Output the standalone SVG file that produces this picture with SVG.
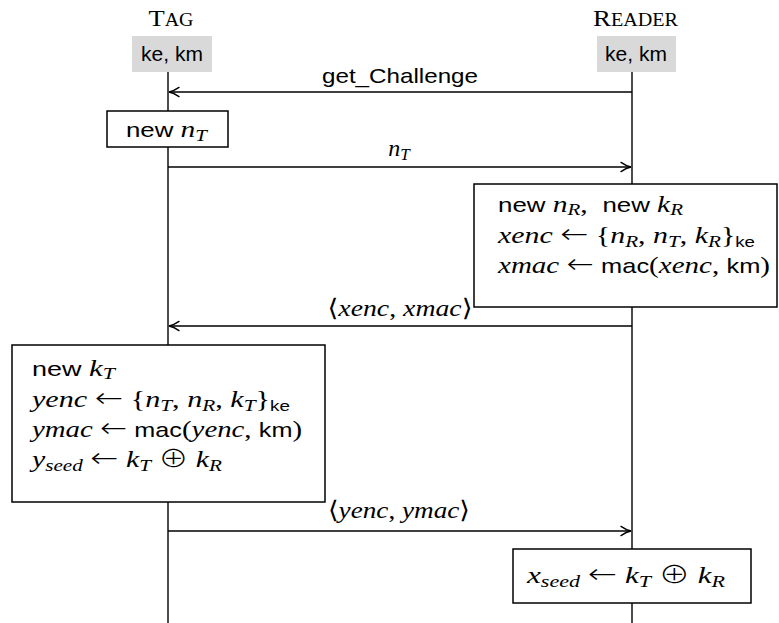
<svg xmlns="http://www.w3.org/2000/svg" width="779" height="623" viewBox="0 0 779 623">
<style>
text { fill:#000; }
.hd { font-family:"Liberation Serif","DejaVu Serif",serif; font-size:24px; }
.sc { font-size:18px; }
.sf { font-family:"Liberation Sans","DejaVu Sans",sans-serif; font-size:21px; font-style:normal; }
.mi { font-family:"Liberation Serif","DejaVu Serif",serif; font-style:italic; font-size:24px; }
.rm { font-family:"Liberation Serif","DejaVu Serif","DejaVu Sans",serif; font-style:normal; font-size:24px; }
.ar { font-family:"DejaVu Sans",sans-serif; font-style:normal; font-weight:200; font-size:27px; }
.op { font-family:"Noto Sans CJK SC","DejaVu Sans",sans-serif; font-style:normal; font-weight:300; font-size:24px; }
.sb { font-size:17px; }
.sbs { font-family:"Liberation Sans","DejaVu Sans",sans-serif; font-size:15px; font-style:normal; }
.life { stroke:#000; stroke-width:1.4; }
.box { fill:#fff; stroke:#000; stroke-width:1.5; }
.key { fill:#d9d9d9; }
.msg { stroke:#000; stroke-width:1.4; fill:none; marker-end:url(#arr); }
</style>
<defs>
  <marker id="arr" markerUnits="userSpaceOnUse" markerWidth="14" markerHeight="12" viewBox="-11 -6 13 12" refX="0" refY="0" orient="auto">
    <path d="M-10,-4.6 C-6,-1.8 -2.8,-0.5 0,0 C-2.8,0.5 -6,1.8 -10,4.6" fill="none" stroke="#000" stroke-width="1.4" stroke-linecap="round"/>
  </marker>
</defs>

<!-- lifelines -->
<g id="lifelines">
  <line class="life" x1="168" y1="72" x2="168" y2="623"/>
  <line class="life" x1="632" y1="72" x2="632" y2="623"/>
</g>

<!-- participants -->
<g id="tag">
  <text class="hd" x="171" y="26" text-anchor="middle" textLength="45" lengthAdjust="spacingAndGlyphs">T<tspan class="sc">AG</tspan></text>
  <rect class="key" x="132" y="36" width="80" height="36"/>
  <text class="sf" x="172" y="61" text-anchor="middle">ke, km</text>
</g>
<g id="reader">
  <text class="hd" x="635.5" y="26" text-anchor="middle" textLength="85" lengthAdjust="spacingAndGlyphs">R<tspan class="sc">EADER</tspan></text>
  <rect class="key" x="597" y="36" width="79" height="36"/>
  <text class="sf" x="636" y="61" text-anchor="middle">ke, km</text>
</g>

<!-- messages -->
<g id="connectors">
  <line class="msg" x1="632" y1="92" x2="169" y2="92"/>
  <line class="msg" x1="168" y1="167" x2="631" y2="167"/>
  <line class="msg" x1="632" y1="326" x2="169" y2="326"/>
  <line class="msg" x1="168" y1="531" x2="631" y2="531"/>
  <text class="sf" x="400" y="83" text-anchor="middle" font-size="22" textLength="156" lengthAdjust="spacingAndGlyphs">get_Challenge</text>
  <text x="399" y="156" text-anchor="middle" xml:space="preserve"><tspan class="mi">n</tspan><tspan class="mi sb" dy="4">T</tspan></text>
  <text x="400" y="316" text-anchor="middle" xml:space="preserve" textLength="145" lengthAdjust="spacingAndGlyphs"><tspan class="rm">⟨</tspan><tspan class="mi">xenc</tspan><tspan class="rm">, </tspan><tspan class="mi">xmac</tspan><tspan class="rm">⟩</tspan></text>
  <text x="399" y="518" text-anchor="middle" xml:space="preserve" textLength="142" lengthAdjust="spacingAndGlyphs"><tspan class="rm">⟨</tspan><tspan class="mi">yenc</tspan><tspan class="rm">, </tspan><tspan class="mi">ymac</tspan><tspan class="rm">⟩</tspan></text>
</g>

<!-- tag: fresh nonce -->
<g id="tag-nonce">
  <rect class="box" x="107" y="111" width="121" height="36"/>
  <text x="126" y="137" xml:space="preserve" textLength="81" lengthAdjust="spacingAndGlyphs"><tspan class="sf">new </tspan><tspan class="mi">n</tspan><tspan class="mi sb" dy="4">T</tspan></text>
</g>

<!-- reader: nonce, key and encryption -->
<g id="reader-compute">
  <rect class="box" x="474" y="184" width="303" height="123"/>
  <text x="498" y="212" xml:space="preserve" textLength="185" lengthAdjust="spacingAndGlyphs"><tspan class="sf">new </tspan><tspan class="mi">n</tspan><tspan class="mi sb" dy="3">R</tspan><tspan class="rm" dy="-3">,  </tspan><tspan class="sf">new </tspan><tspan class="mi">k</tspan><tspan class="mi sb" dy="3">R</tspan></text>
  <text x="498" y="243" xml:space="preserve" textLength="257" lengthAdjust="spacingAndGlyphs"><tspan class="mi">xenc</tspan><tspan class="rm"> </tspan><tspan class="ar">←</tspan><tspan class="rm"> {</tspan><tspan class="mi">n</tspan><tspan class="mi sb" dy="4">R</tspan><tspan class="rm" dy="-4">, </tspan><tspan class="mi">n</tspan><tspan class="mi sb" dy="4">T</tspan><tspan class="rm" dy="-4">, </tspan><tspan class="mi">k</tspan><tspan class="mi sb" dy="4">R</tspan><tspan class="rm" dy="-4">}</tspan><tspan class="sbs" dy="4">ke</tspan></text>
  <text x="498" y="273" xml:space="preserve" textLength="272" lengthAdjust="spacingAndGlyphs"><tspan class="mi">xmac</tspan><tspan class="rm"> </tspan><tspan class="ar">←</tspan><tspan class="rm"> </tspan><tspan class="sf">mac</tspan><tspan class="rm">(</tspan><tspan class="mi">xenc</tspan><tspan class="rm">, </tspan><tspan class="sf">km</tspan><tspan class="rm">)</tspan></text>
</g>

<!-- tag: key, encryption and seed -->
<g id="tag-compute">
  <rect class="box" x="12" y="345" width="313" height="157"/>
  <text x="32" y="376" xml:space="preserve" textLength="83" lengthAdjust="spacingAndGlyphs"><tspan class="sf">new </tspan><tspan class="mi">k</tspan><tspan class="mi sb" dy="3">T</tspan></text>
  <text x="32" y="407" xml:space="preserve" textLength="258" lengthAdjust="spacingAndGlyphs"><tspan class="mi">yenc</tspan><tspan class="rm"> </tspan><tspan class="ar">←</tspan><tspan class="rm"> {</tspan><tspan class="mi">n</tspan><tspan class="mi sb" dy="4">T</tspan><tspan class="rm" dy="-4">, </tspan><tspan class="mi">n</tspan><tspan class="mi sb" dy="4">R</tspan><tspan class="rm" dy="-4">, </tspan><tspan class="mi">k</tspan><tspan class="mi sb" dy="4">T</tspan><tspan class="rm" dy="-4">}</tspan><tspan class="sbs" dy="4">ke</tspan></text>
  <text x="32" y="437" xml:space="preserve" textLength="270" lengthAdjust="spacingAndGlyphs"><tspan class="mi">ymac</tspan><tspan class="rm"> </tspan><tspan class="ar">←</tspan><tspan class="rm"> </tspan><tspan class="sf">mac</tspan><tspan class="rm">(</tspan><tspan class="mi">yenc</tspan><tspan class="rm">, </tspan><tspan class="sf">km</tspan><tspan class="rm">)</tspan></text>
  <text x="32" y="467" xml:space="preserve" textLength="190" lengthAdjust="spacingAndGlyphs"><tspan class="mi">y</tspan><tspan class="mi sb" dy="4">seed</tspan><tspan class="rm" dy="-4"> </tspan><tspan class="ar">←</tspan><tspan class="rm"> </tspan><tspan class="mi">k</tspan><tspan class="mi sb" dy="4">T</tspan><tspan class="rm" dy="-4"> </tspan><tspan class="op">⊕</tspan><tspan class="rm"> </tspan><tspan class="mi">k</tspan><tspan class="mi sb" dy="4">R</tspan></text>
</g>

<!-- reader: seed -->
<g id="reader-seed">
  <rect class="box" x="513" y="549" width="238" height="54"/>
  <text x="527" y="583" xml:space="preserve" textLength="198" lengthAdjust="spacingAndGlyphs"><tspan class="mi">x</tspan><tspan class="mi sb" dy="4">seed</tspan><tspan class="rm" dy="-4"> </tspan><tspan class="ar">←</tspan><tspan class="rm"> </tspan><tspan class="mi">k</tspan><tspan class="mi sb" dy="4">T</tspan><tspan class="rm" dy="-4"> </tspan><tspan class="op">⊕</tspan><tspan class="rm"> </tspan><tspan class="mi">k</tspan><tspan class="mi sb" dy="4">R</tspan></text>
</g>
</svg>
